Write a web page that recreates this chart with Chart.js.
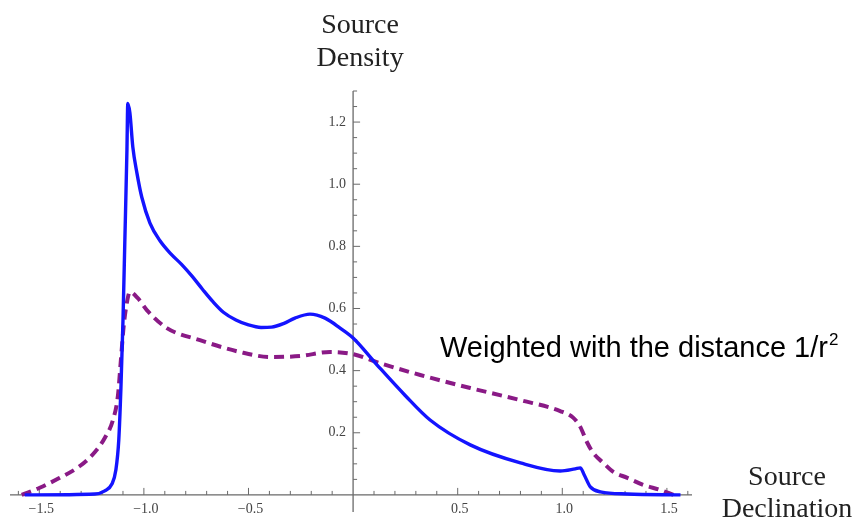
<!DOCTYPE html>
<html>
<head>
<meta charset="utf-8">
<script src="https://cdn.jsdelivr.net/npm/chart.js@4.4.1/dist/chart.umd.min.js"></script>
<style>
  html, body { margin: 0; padding: 0; background: #fff; }
  #wrap { width: 856px; height: 526px; position: relative; }
</style>
</head>
<body>
<div id="wrap"><canvas id="myChart"></canvas></div>
<script>
// density of sources vs declination (solid)
const plainX = [-1.57, -1.234, -1.187, -1.153, -1.134, -1.12, -1.11, -1.1, -1.091, -1.081, -1.077,
  -1.067, -1.053, -1.033, -1.01, -0.971, -0.923, -0.87, -0.82, -0.77, -0.72, -0.67, -0.62,
  -0.56, -0.5, -0.44, -0.39, -0.33, -0.278, -0.206, -0.134, -0.062, 0, 0.115, 0.249, 0.368,
  0.56, 0.8, 0.99, 1.062, 1.086, 1.105, 1.134, 1.182, 1.311, 1.565];
const plainY = [0, 0.003, 0.013, 0.035, 0.08, 0.177, 0.34, 0.56, 0.82, 1.11, 1.26,
  1.23, 1.12, 1.035, 0.958, 0.875, 0.818, 0.775, 0.742, 0.704, 0.662, 0.622, 0.588,
  0.563, 0.547, 0.539, 0.54, 0.552, 0.569, 0.582, 0.569, 0.537, 0.505, 0.418, 0.32, 0.241,
  0.161, 0.103, 0.077, 0.084, 0.087, 0.064, 0.026, 0.01, 0.003, 0];

// same density weighted with 1/r^2 (dashed)
const weightedX = [-1.584, -1.498, -1.402, -1.306, -1.234, -1.187, -1.148, -1.124, -1.11, -1.096,
  -1.081, -1.067, -1.029, -0.986, -0.89, -0.732, -0.541, -0.397, -0.254, -0.11, 0, 0.129,
  0.321, 0.56, 0.8, 0.99, 1.053, 1.086, 1.12, 1.148, 1.196, 1.244, 1.311, 1.388, 1.469, 1.531];
const weightedY = [0, 0.023, 0.055, 0.093, 0.138, 0.183, 0.241, 0.32, 0.434, 0.547,
  0.62, 0.653, 0.633, 0.595, 0.537, 0.498, 0.46, 0.444, 0.447, 0.46, 0.453, 0.424,
  0.386, 0.344, 0.305, 0.27, 0.248, 0.219, 0.167, 0.135, 0.103, 0.074, 0.055, 0.032, 0.016, 0];

const xTicks = [-1.5, -1.0, -0.5, 0.5, 1.0, 1.5];
const yTicks = [0.2, 0.4, 0.6, 0.8, 1.0, 1.2];
const xMinorStep = 0.1;
const yMinorStep = 0.05;

function toPoints(xs, ys) {
    return xs.map((v, i) => ({ x: v, y: ys[i] }));
}

function fmt(v) {
    const s = v.toFixed(1);
    return v < 0 ? '\u2212' + s.slice(1) : s;
}

// axes crossing at the origin, ticks pointing inward, labels outside
const originAxes = {
    id: 'originAxes',
    beforeDatasetsDraw(chart) {
        const ctx = chart.ctx;
        const x = chart.scales.x, y = chart.scales.y;
        const x0 = x.getPixelForValue(0);
        const y0 = y.getPixelForValue(0);
        ctx.save();
        ctx.strokeStyle = '#6a6a6a';
        ctx.lineWidth = 1.3;
        ctx.beginPath();
        ctx.moveTo(x.left, y0); ctx.lineTo(x.right, y0);
        ctx.moveTo(x0, y.bottom); ctx.lineTo(x0, y.top);
        ctx.stroke();

        ctx.lineWidth = 1;
        ctx.beginPath();
        for (let i = Math.ceil(x.min / xMinorStep); i * xMinorStep <= x.max; i++) {
            if (i === 0) continue;
            const px = x.getPixelForValue(i * xMinorStep);
            const len = (i % 5 === 0) ? 7 : 4;
            ctx.moveTo(px, y0); ctx.lineTo(px, y0 - len);
        }
        for (let i = 1; i * yMinorStep <= y.max + 1e-9; i++) {
            const py = y.getPixelForValue(i * yMinorStep);
            const len = (i % 4 === 0) ? 7 : 4;
            ctx.moveTo(x0, py); ctx.lineTo(x0 + len, py);
        }
        ctx.stroke();

        ctx.fillStyle = '#444';
        ctx.font = '14px "Liberation Serif", "DejaVu Serif", serif';
        ctx.textAlign = 'center';
        ctx.textBaseline = 'alphabetic';
        xTicks.forEach(v => {
            ctx.fillText(fmt(v), x.getPixelForValue(v) + 2, y0 + 18);
        });
        ctx.textAlign = 'right';
        ctx.textBaseline = 'middle';
        yTicks.forEach(v => {
            ctx.fillText(fmt(v), x0 - 7, y.getPixelForValue(v));
        });
        ctx.restore();
    },
    afterDraw(chart) {
        const ctx = chart.ctx;
        const x = chart.scales.x;
        const x0 = x.getPixelForValue(0);
        ctx.save();
        ctx.fillStyle = '#222';
        ctx.font = '28px "Liberation Serif", "DejaVu Serif", serif';
        ctx.textAlign = 'center';
        ctx.textBaseline = 'alphabetic';
        ctx.fillText('Source', x0 + 7, 33);
        ctx.fillText('Density', x0 + 7, 66);
        ctx.fillText('Source', 787, 485);
        ctx.fillText('Declination', 787, 517);

        ctx.fillStyle = '#000';
        ctx.textAlign = 'left';
        ctx.font = '29px "Liberation Sans", Arial, sans-serif';
        const note = 'Weighted with the distance 1/r';
        ctx.fillText(note, 440, 357);
        const w = ctx.measureText(note).width;
        ctx.font = '17px "Liberation Sans", Arial, sans-serif';
        ctx.fillText('2', 440 + w + 1, 345);
        ctx.restore();
    }
};

const ctx = document.getElementById('myChart').getContext('2d');
const myChart = new Chart(ctx, {
    type: 'scatter',
    data: {
        datasets: [{
            label: 'Density',
            data: toPoints(plainX, plainY),
            showLine: true,
            borderColor: '#1414ff',
            borderWidth: 3.4,
            pointRadius: 0,
            cubicInterpolationMode: 'monotone',
            clip: false
        }, {
            label: 'Weighted',
            data: toPoints(weightedX, weightedY),
            showLine: true,
            borderColor: '#8a1a86',
            borderWidth: 4,
            borderDash: [10, 6],
            pointRadius: 0,
            cubicInterpolationMode: 'monotone',
            clip: false
        }]
    },
    options: {
        responsive: true,
        maintainAspectRatio: false,
        animation: false,
        layout: {
            padding: { left: 10, right: 164, top: 91, bottom: 14 }
        },
        plugins: {
            legend: { display: false },
            tooltip: { enabled: false }
        },
        scales: {
            x: { type: 'linear', min: -1.64, max: 1.62, display: false },
            y: { type: 'linear', min: -0.055, max: 1.3, display: false }
        }
    },
    plugins: [originAxes]
});
</script>
</body>
</html>
